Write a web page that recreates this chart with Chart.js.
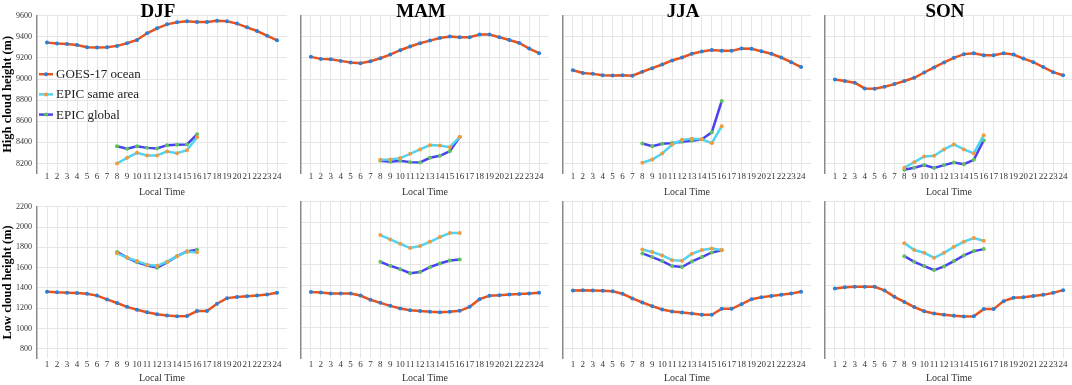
<!DOCTYPE html>
<html>
<head>
<meta charset="utf-8">
<script src="https://cdn.jsdelivr.net/npm/chart.js@4.4.1/dist/chart.umd.min.js"></script>
<style>
  html, body { margin: 0; padding: 0; background: #fff; }
  #wrap { position: relative; width: 1072px; height: 385px; overflow: hidden; }
  .panel { position: absolute; }
</style>
</head>
<body>
<div id="wrap"></div>
<script>
const HOURS = [1, 2, 3, 4, 5, 6, 7, 8, 9, 10, 11, 12, 13, 14, 15, 16, 17, 18, 19, 20, 21, 22, 23, 24];
const EPIC_HOURS = [8, 9, 10, 11, 12, 13, 14, 15, 16];
const SEASONS = ['DJF', 'MAM', 'JJA', 'SON'];
const SERIES_NAMES = ['GOES-17 ocean', 'EPIC same area', 'EPIC global'];
const Y_TITLES = ['High cloud height (m)', 'Low cloud height (m)'];
const X_TITLE = 'Local Time';
const HIGH_RANGE = [8110, 9600];
const LOW_RANGE = [710, 2200];
const Y_STEP = 200;

// high cloud height (m)
const highGoesDJF = [9345, 9336, 9333, 9323, 9301, 9298, 9301, 9314, 9339, 9370, 9433, 9480, 9518, 9537, 9547, 9540, 9540, 9553, 9547, 9525, 9490, 9455, 9411, 9367];
const highSameDJF = [8200, 8254, 8301, 8276, 8276, 8314, 8298, 8326, 8449];
const highGlobalDJF = [8364, 8339, 8364, 8348, 8342, 8374, 8377, 8380, 8477];

const highGoesMAM = [9210, 9191, 9188, 9172, 9157, 9150, 9169, 9197, 9232, 9273, 9308, 9339, 9364, 9389, 9402, 9396, 9396, 9421, 9421, 9396, 9370, 9342, 9289, 9245];
const highSameMAM = [8235, 8238, 8251, 8292, 8333, 8374, 8371, 8355, 8452];
const highGlobalMAM = [8226, 8217, 8226, 8213, 8210, 8254, 8273, 8317, 8452];

const highGoesJJA = [9084, 9058, 9049, 9036, 9034, 9036, 9031, 9069, 9103, 9138, 9176, 9204, 9239, 9261, 9274, 9267, 9267, 9289, 9286, 9264, 9239, 9204, 9160, 9113];
const highSameJJA = [8207, 8238, 8295, 8380, 8424, 8434, 8430, 8393, 8553];
const highGlobalJJA = [8390, 8364, 8386, 8393, 8405, 8415, 8430, 8496, 8792];

const highGoesSON = [8996, 8981, 8965, 8911, 8908, 8927, 8952, 8981, 9012, 9062, 9110, 9157, 9201, 9236, 9245, 9226, 9226, 9245, 9232, 9194, 9160, 9113, 9065, 9036];
const highSameSON = [8160, 8213, 8267, 8273, 8333, 8380, 8333, 8295, 8468];
const highGlobalSON = [8141, 8160, 8185, 8157, 8185, 8210, 8194, 8235, 8421];

// low cloud height (m)
const lowGoesDJF = [1363, 1357, 1354, 1351, 1344, 1325, 1287, 1252, 1214, 1185, 1160, 1141, 1128, 1122, 1125, 1172, 1172, 1245, 1300, 1312, 1319, 1325, 1335, 1354];
const lowSameDJF = [1742, 1700, 1665, 1630, 1618, 1659, 1713, 1758, 1751];
const lowGlobalDJF = [1755, 1700, 1653, 1624, 1599, 1653, 1713, 1761, 1777];

const lowGoesMAM = [1338, 1335, 1325, 1325, 1325, 1306, 1265, 1236, 1207, 1182, 1166, 1157, 1150, 1147, 1150, 1160, 1198, 1271, 1303, 1309, 1316, 1319, 1325, 1331];
const lowSameMAM = [1882, 1840, 1799, 1758, 1777, 1818, 1863, 1901, 1901];
const lowGlobalMAM = [1627, 1589, 1557, 1519, 1529, 1576, 1611, 1640, 1650];

const lowGoesJJA = [1354, 1357, 1354, 1351, 1347, 1322, 1278, 1239, 1204, 1172, 1153, 1144, 1134, 1122, 1122, 1179, 1179, 1223, 1271, 1290, 1300, 1312, 1325, 1341];
const lowSameJJA = [1745, 1720, 1688, 1643, 1637, 1704, 1739, 1754, 1739];
const lowGlobalJJA = [1707, 1672, 1634, 1586, 1577, 1631, 1672, 1716, 1736];

const lowGoesSON = [1373, 1385, 1389, 1389, 1389, 1354, 1293, 1245, 1195, 1156, 1134, 1122, 1112, 1106, 1109, 1176, 1176, 1252, 1284, 1290, 1300, 1312, 1331, 1357];
const lowSameSON = [1805, 1739, 1713, 1665, 1713, 1770, 1818, 1853, 1828];
const lowGlobalSON = [1681, 1627, 1586, 1548, 1583, 1634, 1688, 1729, 1748];

const PLOT_LEFT = [37, 299, 561, 823];
const PLOT_W = 250;

Chart.defaults.font.family = '"Liberation Serif", "DejaVu Serif", serif';

// season name above each top panel
const panelTitle = {
  id: 'panelTitle',
  afterDraw(chart, args, opts) {
    if (!opts.text) return;
    const { ctx, chartArea } = chart;
    ctx.save();
    ctx.font = 'bold 19px "Liberation Serif", serif';
    ctx.fillStyle = '#000';
    ctx.textAlign = 'center';
    ctx.textBaseline = 'alphabetic';
    ctx.fillText(opts.text, (chartArea.left + chartArea.right) / 2 - 4, chartArea.top + 1.3);
    ctx.restore();
  }
};

// legend drawn inside the first panel
const legendInside = {
  id: 'legendInside',
  afterDraw(chart, args, opts) {
    if (!opts.show) return;
    const { ctx, chartArea } = chart;
    ctx.save();
    chart.data.datasets.forEach((ds, i) => {
      const y = chartArea.top + 58.5 + i * 20.2;
      const x = chartArea.left + 2;
      ctx.strokeStyle = ds.borderColor;
      ctx.lineWidth = 2.5;
      ctx.beginPath();
      ctx.moveTo(x, y);
      ctx.lineTo(x + 14, y);
      ctx.stroke();
      ctx.fillStyle = ds.pointBackgroundColor;
      ctx.beginPath();
      ctx.arc(x + 7, y, 2, 0, Math.PI * 2);
      ctx.fill();
      ctx.fillStyle = '#222';
      ctx.font = '13px "Liberation Serif", serif';
      ctx.textAlign = 'left';
      ctx.textBaseline = 'middle';
      ctx.fillText(ds.label, x + 17, y + 0.5);
    });
    ctx.restore();
  }
};

Chart.register(panelTitle, legendInside);

const wrap = document.getElementById('wrap');

function makePanel(row, col, goes, same, glob) {
  const left = PLOT_LEFT[col];
  const yW = col === 0 ? left : 2;
  const range = row === 0 ? HIGH_RANGE : LOW_RANGE;

  const div = document.createElement('div');
  div.className = 'panel';
  div.style.left = (left - yW) + 'px';
  div.style.top = (row === 0 ? 0 : 197) + 'px';
  div.style.width = (yW + PLOT_W + 4) + 'px';
  div.style.height = (row === 0 ? 197 : 188) + 'px';
  const cv = document.createElement('canvas');
  div.appendChild(cv);
  wrap.appendChild(div);

  const line = (label, hours, vals, color, marker) => ({
    label,
    data: hours.map((h, i) => ({ x: h, y: vals[i] })),
    borderColor: color,
    backgroundColor: color,
    pointBackgroundColor: marker,
    pointBorderWidth: 0,
    pointRadius: 2,
    borderWidth: 2.5,
    tension: 0
  });

  new Chart(cv, {
    type: 'line',
    data: {
      datasets: [
        line(SERIES_NAMES[0], HOURS, goes, '#e8531c', '#2b7fd6'),
        line(SERIES_NAMES[1], EPIC_HOURS, same, '#4fd4f4', '#f59a3c'),
        line(SERIES_NAMES[2], EPIC_HOURS, glob, '#4b40f2', '#5fc25f')
      ]
    },
    options: {
      responsive: true,
      maintainAspectRatio: false,
      animation: false,
      layout: { padding: { top: row === 0 ? 15.7 : 4.7, right: 4, left: 0, bottom: 0 } },
      plugins: {
        legend: { display: false },
        tooltip: { enabled: false },
        panelTitle: { text: row === 0 ? SEASONS[col] : '' },
        legendInside: { show: row === 0 && col === 0 }
      },
      scales: {
        x: {
          type: 'linear',
          min: 0,
          max: 25,
          border: { display: false },
          afterFit: s => { s.height = row === 0 ? 24 : 27; },
          grid: {
            drawTicks: false,
            color: c => (c.tick && (c.tick.value === 0 || c.tick.value === 25)) ? 'rgba(0,0,0,0)' : '#e6e6e6'
          },
          ticks: {
            stepSize: 1,
            autoSkip: false,
            maxRotation: 0,
            padding: row === 0 ? -1.5 : 1,
            color: '#333',
            font: { size: 9 },
            callback: v => (v >= 1 && v <= 24) ? String(v) : ''
          },
          title: {
            display: true,
            text: X_TITLE,
            color: '#333',
            font: { size: 10 },
            padding: { top: 0, bottom: row === 0 ? -1 : 1 }
          }
        },
        y: {
          min: range[0],
          max: range[1],
          border: { display: true, color: '#8a8a8a', width: 1.5 },
          afterFit: s => { s.width = yW; },
          grid: { color: '#e6e6e6', drawTicks: false },
          ticks: {
            display: col === 0,
            stepSize: Y_STEP,
            includeBounds: false,
            padding: 5,
            color: '#333',
            font: { size: 8 },
            callback: v => String(v)
          },
          title: {
            display: col === 0,
            text: Y_TITLES[row],
            color: '#000',
            font: { size: 12.5, weight: 'bold' },
            padding: { top: 0.5, bottom: 0 }
          }
        }
      }
    }
  });
}

makePanel(0, 0, highGoesDJF, highSameDJF, highGlobalDJF);
makePanel(0, 1, highGoesMAM, highSameMAM, highGlobalMAM);
makePanel(0, 2, highGoesJJA, highSameJJA, highGlobalJJA);
makePanel(0, 3, highGoesSON, highSameSON, highGlobalSON);
makePanel(1, 0, lowGoesDJF, lowSameDJF, lowGlobalDJF);
makePanel(1, 1, lowGoesMAM, lowSameMAM, lowGlobalMAM);
makePanel(1, 2, lowGoesJJA, lowSameJJA, lowGlobalJJA);
makePanel(1, 3, lowGoesSON, lowSameSON, lowGlobalSON);
</script>
</body>
</html>
